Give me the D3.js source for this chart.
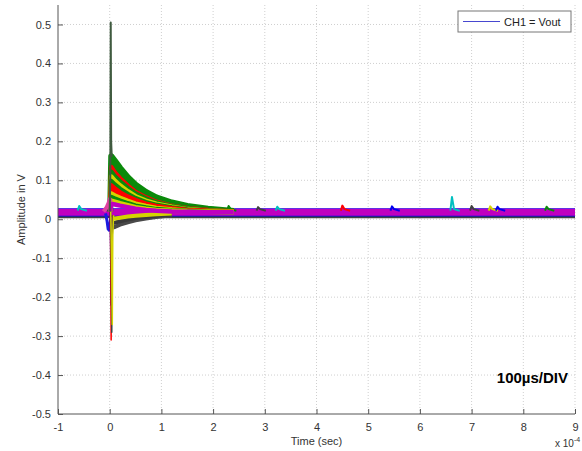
<!DOCTYPE html>
<html>
<head>
<meta charset="utf-8">
<script src="https://cdn.jsdelivr.net/npm/d3@7"></script>
<style>
body{margin:0;background:#fff;}
svg text{font-family:"Liberation Sans",Arial,sans-serif;}
</style>
</head>
<body>
<svg id="chart" width="582" height="451"></svg>
<script>
// scope capture, CH1 = Vout, time in units of 1e-4 s

var xTicks = [-1,0,1,2,3,4,5,6,7,8,9];
var yTicks = [-0.5,-0.4,-0.3,-0.2,-0.1,0,0.1,0.2,0.3,0.4,0.5];

// baseline traces (flat, whole record)
var baseT = [-1, 9];
var baseLevels = [0.006, 0.010, 0.026, 0.024, 0.018];
var baseColors = ["#404040","#0000ee","#0000ee","#ff0000","#bf00bf"];
var baseWidths = [2.5, 2.5, 1.5, 2, 7];

// decaying pulses after the trigger
var decayT = [0.01, 0.03, 0.1, 0.2, 0.35, 0.5, 0.7, 0.9, 1.2, 1.5, 1.9, 2.4];
var decayVals = [
	[0.02,0.162,0.150,0.132,0.108,0.089,0.070,0.056,0.043,0.034,0.027,0.021],
	[0.02,0.148,0.134,0.117,0.095,0.078,0.062,0.050,0.038,0.031,0.025,0.020],
	[0.02,0.134,0.120,0.105,0.086,0.070,0.056,0.045,0.035,0.029,0.024,0.020],
	[0.02,0.122,0.110,0.097,0.080,0.066,0.053,0.043,0.034,0.028,0.023,0.020],
	[0.02,0.110,0.099,0.087,0.072,0.059,0.048,0.040,0.032,0.026,0.022,0.020],
	[0.02,0.098,0.089,0.078,0.065,0.054,0.044,0.037,0.030,0.025,0.021,0.019],
	[0.02,0.087,0.079,0.069,0.058,0.049,0.040,0.034,0.028,0.024,0.021,0.019],
	[0.02,0.077,0.070,0.062,0.053,0.045,0.037,0.031,0.026,0.023,0.021,0.019],
	[0.02,0.066,0.061,0.055,0.047,0.040,0.034,0.029,0.025,0.022,0.020,0.019],
	[0.02,0.057,0.053,0.048,0.041,0.035,0.030,0.026,0.023,0.021,0.019,0.018],
	[0.02,0.048,0.045,0.041,0.036,0.031,0.027,0.024,0.022,0.020,0.019,0.018],
	[0.02,0.040,0.038,0.035,0.031,0.027,0.024,0.022,0.020,0.019,0.018,0.018]
];
var decayColors = ["#0a8a0a","#0a8a0a","#ff0000","#0a8a0a","#d4d400","#0a8a0a","#ff0000","#ff0000","#d4d400","#0a8a0a","#d4d400","#bf00bf"];

// undershoot traces below the baseline
var underT = [0.03, 0.1, 0.2, 0.35, 0.5, 0.7, 0.9, 1.2];
var underVals = [
	[-0.022,-0.020,-0.014,-0.008,-0.003,0.002,0.006,0.010],
	[-0.010,-0.009,-0.005,-0.001,0.003,0.006,0.009,0.012],
	[0.000,0.002,0.004,0.007,0.009,0.011,0.013,0.015]
];
var underColors = ["#4a4a4a","#3a3a3a","#d4d400"];

// trigger edge: pre-rise, dip, spikes
var preT = [-0.12,-0.06,-0.02,0.0,0.015];
var preVals = [0.02,0.03,0.042,0.052,0.045];
var dipT = [-0.08,-0.05,-0.03,-0.01,0.01,0.02];
var dipVals = [0.015,-0.005,-0.025,-0.028,-0.012,0.0];
var spikeUpT = [0.0,0.012,0.02,0.028,0.04];
var spikeUpV = [0.02,0.12,0.505,0.2,0.16];
// negative spikes: one row per trace, [t, v] pairs
var spikeDnT = [
	[0.005,0.018,0.025,0.035,0.05],
	[0.01,0.02,0.028,0.04,0.055],
	[0.015,0.028,0.04,0.05,0.065],
	[0.02,0.035,0.05,0.06,0.075]
];
var spikeDnV = [
	[0.02,-0.07,-0.22,-0.03,0.01],
	[0.02,-0.1,-0.31,-0.05,0.01],
	[0.02,-0.08,-0.29,-0.04,0.01],
	[0.02,-0.09,-0.27,-0.04,0.01]
];
var spikeDnColors = ["#0000ee","#ff0000","#404040","#d4d400"];

// little glitches on the baseline
var blipT = [-0.59, 2.3, 2.87, 3.24, 4.5, 5.46, 6.62, 7.0, 7.36, 7.5, 8.45];
var blipV = [0.034, 0.034, 0.031, 0.032, 0.035, 0.033, 0.057, 0.034, 0.033, 0.032, 0.032];
var blipColors = ["#00bfbf","#0a8a0a","#404040","#00bfbf","#ff0000","#0000ee","#00bfbf","#404040","#d4d400","#0000ee","#0a8a0a"];

var svg = d3.select("#chart");
var pLeft = 58, pRight = 575, pTop = 5, pBottom = 414;

var x = d3.scaleLinear().domain([-1,9]).range([pLeft,pRight]);
var y = d3.scaleLinear().domain([-0.5,0.55]).range([pBottom,pTop]);

// grid
svg.append("g").selectAll("line").data(xTicks.slice(1)).enter().append("line")
	.attr("x1",function(d){return x(d);}).attr("x2",function(d){return x(d);})
	.attr("y1",pTop).attr("y2",pBottom)
	.attr("stroke","#cfcfcf").attr("stroke-width",1).attr("stroke-dasharray","1,2");
svg.append("g").selectAll("line").data(yTicks.slice(1)).enter().append("line")
	.attr("x1",pLeft).attr("x2",pRight)
	.attr("y1",function(d){return y(d);}).attr("y2",function(d){return y(d);})
	.attr("stroke","#cfcfcf").attr("stroke-width",1).attr("stroke-dasharray","1,2");

var plot = svg.append("g").attr("id","plot");

function drawTrace(ts,vs,color,w){
	var pts = ts.map(function(t,i){return [t,vs[i]];});
	plot.append("path")
	.attr("d",d3.line().x(function(d){return x(d[0]);}).y(function(d){return y(d[1]);})(pts))
	.attr("fill","none")
	.attr("stroke",color)
	.attr("stroke-width",w)
	.attr("stroke-linejoin","round");
}

for(var i=0;i<baseLevels.length;i++)
	drawTrace(baseT,[baseLevels[i],baseLevels[i]],baseColors[i],baseWidths[i]);

for(var i=0;i<blipT.length;i++){
	drawTrace([blipT[i]-0.03,blipT[i],blipT[i]+0.04,blipT[i]+0.15],[0.022,blipV[i],0.026,0.022],blipColors[i],2);
}

for(var i=0;i<underVals.length;i++)
	drawTrace(underT,underVals[i],underColors[i],4);

for(var i=0;i<decayVals.length;i++)
	drawTrace(decayT,decayVals[i],decayColors[i],i===0?6:4.5);

drawTrace(preT,preVals,"#e040a0",4);
drawTrace(dipT,dipVals,"#1a1ae0",3);

for(var i=0;i<spikeDnV.length;i++)
	drawTrace(spikeDnT[i],spikeDnV[i],spikeDnColors[i],1.5);

drawTrace(spikeUpT,spikeUpV,"#3f5a3f",2);

// axes (MATLAB style, ticks inward)
var xAxis = d3.axisBottom(x).tickValues(xTicks).tickSizeInner(-5).tickSizeOuter(0).tickPadding(9)
	.tickFormat(function(d){return String(d);});
var yAxis = d3.axisLeft(y).tickValues(yTicks).tickSizeInner(-5).tickSizeOuter(0).tickPadding(7)
	.tickFormat(function(d){return d===0?"0":d.toFixed(1);});

var gx = svg.append("g").attr("transform","translate(0,"+pBottom+")").call(xAxis);
var gy = svg.append("g").attr("transform","translate("+pLeft+",0)").call(yAxis);
[gx,gy].forEach(function(g){
	g.select(".domain").attr("stroke","#555");
	g.selectAll(".tick line").attr("stroke","#555");
	g.selectAll("text").attr("fill","#333").style("font-size","11px");
});
gx.select(".domain").attr("d","M"+pLeft+",0H"+pRight);
gy.select(".domain").attr("d","M0,"+pTop+"V"+pBottom);

svg.append("text").attr("x",(pLeft+pRight)/2).attr("y",445)
	.attr("text-anchor","middle").attr("fill","#333").style("font-size","11px").text("Time (sec)");
svg.append("text").attr("transform","translate(25,"+((pTop+pBottom)/2)+") rotate(-90)")
	.attr("text-anchor","middle").attr("fill","#333").style("font-size","11px").text("Amplitude in V");
var ex = svg.append("text").attr("x",555).attr("y",447).attr("fill","#333").style("font-size","10px");
ex.append("tspan").text("x 10");
ex.append("tspan").attr("dy",-5).style("font-size","7px").text("-4");

// annotation
svg.append("text").attr("x",568).attr("y",383).attr("text-anchor","end")
	.style("font-size","15px").style("font-weight","bold").attr("fill","#000").text("100µs/DIV");

// legend
var lg = svg.append("g");
lg.append("rect").attr("x",458).attr("y",11).attr("width",113).attr("height",21)
	.attr("fill","#fff").attr("stroke","#777").attr("stroke-width",1);
lg.append("line").attr("x1",463).attr("x2",500).attr("y1",21.5).attr("y2",21.5)
	.attr("stroke","#4848d0").attr("stroke-width",1);
lg.append("text").attr("x",504).attr("y",25.5).attr("fill","#222").style("font-size","11px").text("CH1 = Vout");
</script>
</body>
</html>
